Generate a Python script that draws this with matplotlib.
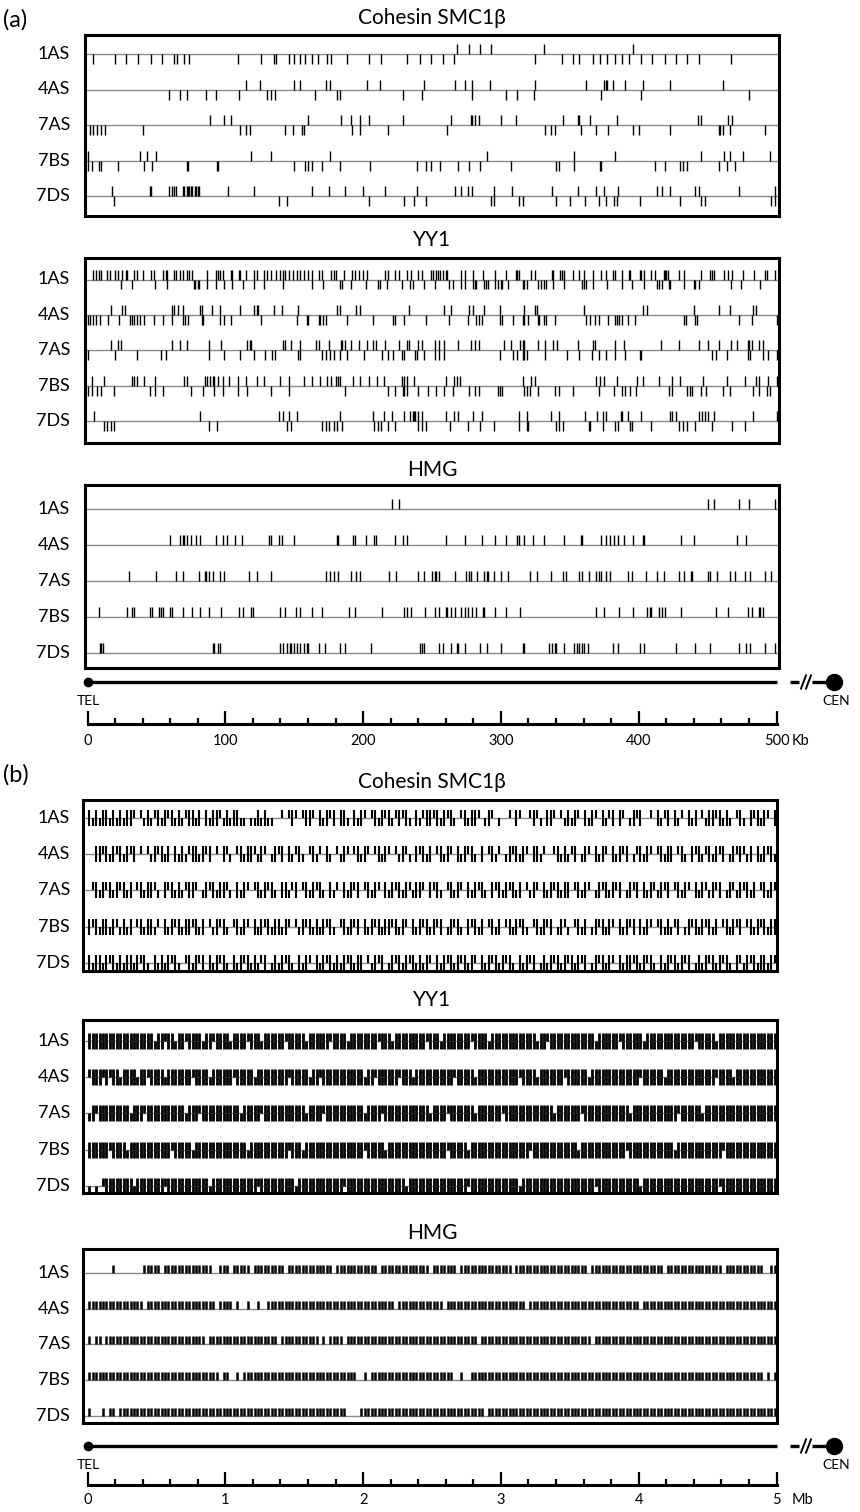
import matplotlib.pyplot as plt

plt.rcParams['font.family'] = ['Lato', 'DejaVu Sans']

W, H = 860, 1512
tracks = ['1AS', '4AS', '7AS', '7BS', '7DS']

# ---- 500 kb window: motif positions (kb), upper / lower strand ----
cohesin_a_up = {
    '1AS': [268, 277, 285, 293, 331, 396],
    '4AS': [115, 125, 150, 154, 173, 176, 203, 212, 244, 267, 274, 279, 292, 325, 362,
            375, 376, 377, 381, 390, 403, 423, 461],
    '7AS': [89, 99, 104, 160, 184, 191, 198, 204, 229, 264, 278, 279, 281, 284, 300, 311,
            345, 356, 357, 365, 384, 443, 445, 465, 468],
    '7BS': [0, 38, 43, 50, 119, 133, 176, 290, 353, 383, 445, 462, 466, 476, 495],
    '7DS': [18, 45, 46, 59, 61, 63, 64, 69, 70, 72, 73, 74, 75, 76, 78, 79, 80, 81, 102,
            121, 163, 175, 187, 200, 216, 239, 267, 271, 276, 279, 295, 308, 337, 356, 369,
            375, 385, 413, 417, 423, 441, 444, 473, 499],
}
cohesin_a_down = {
    '1AS': [4, 20, 28, 37, 46, 54, 63, 65, 70, 74, 109, 126, 135, 137, 146, 150, 154, 158,
            163, 167, 174, 177, 188, 204, 213, 232, 241, 249, 258, 266, 325, 344, 352, 357,
            367, 372, 377, 383, 388, 393, 402, 410, 419, 427, 435, 444, 467],
    '4AS': [59, 67, 72, 86, 93, 110, 130, 133, 136, 165, 181, 183, 229, 243, 279, 304, 312,
            324, 373, 402, 480],
    '7AS': [2, 4, 7, 10, 13, 40, 111, 115, 118, 143, 149, 156, 157, 192, 198, 218, 261, 332,
            336, 339, 358, 369, 378, 396, 400, 423, 458, 459, 461, 466, 492],
    '7BS': [0, 3, 8, 10, 22, 41, 47, 72, 73, 94, 95, 150, 158, 160, 163, 170, 183, 205, 239,
            246, 249, 256, 269, 277, 285, 307, 340, 342, 353, 372, 373, 412, 419, 430, 432,
            435, 458, 464, 470],
    '7DS': [19, 139, 145, 204, 230, 237, 246, 293, 295, 313, 316, 340, 350, 361, 371, 376,
            382, 384, 401, 430, 445, 448, 496, 499],
}

yy1_a_up = {
    '1AS': [4, 6, 8, 10, 14, 16, 20, 22, 25, 28, 29, 34, 36, 40, 46, 48, 55, 57, 58, 63, 64,
            67, 69, 72, 74, 76, 87, 93, 95, 96, 98, 104, 105, 110, 111, 115, 121, 123, 128,
            130, 133, 137, 140, 142, 143, 146, 149, 152, 154, 157, 160, 163, 168, 170, 177,
            179, 180, 186, 192, 194, 197, 200, 203, 216, 218, 223, 226, 232, 235, 240, 243,
            249, 251, 253, 254, 256, 258, 260, 261, 271, 274, 280, 287, 296, 304, 311, 312,
            313, 322, 325, 337, 338, 343, 344, 346, 352, 357, 360, 367, 373, 376, 381, 383,
            388, 393, 394, 401, 402, 404, 409, 412, 418, 419, 420, 421, 429, 433, 445, 452,
            453, 455, 462, 465, 468, 476, 484, 492, 493, 499],
    '4AS': [17, 25, 27, 61, 63, 66, 69, 82, 83, 90, 96, 111, 121, 123, 124, 135, 141, 153,
            181, 183, 195, 198, 233, 259, 264, 277, 280, 288, 299, 317, 325, 326, 360, 403,
            406, 440, 458, 466, 483, 485],
    '7AS': [17, 22, 24, 61, 67, 72, 88, 97, 116, 118, 119, 142, 143, 148, 154, 166, 168, 175,
            184, 185, 187, 191, 197, 203, 207, 209, 216, 226, 232, 233, 240, 243, 252, 255,
            259, 269, 278, 281, 284, 302, 307, 314, 316, 317, 327, 332, 338, 341, 356, 367,
            368, 383, 389, 416, 429, 444, 450, 458, 467, 471, 479, 480, 482, 487, 490],
    '7BS': [3, 12, 32, 34, 36, 41, 49, 70, 72, 85, 87, 89, 91, 92, 95, 98, 103, 109, 115,
            123, 128, 140, 146, 157, 163, 169, 174, 177, 180, 182, 183, 193, 198, 204, 210,
            215, 228, 230, 232, 237, 260, 266, 268, 270, 316, 322, 325, 369, 372, 375, 384,
            399, 403, 415, 424, 430, 447, 464, 477, 485, 487, 494, 500],
    '7DS': [5, 82, 139, 142, 146, 152, 183, 207, 215, 221, 230, 234, 236, 237, 238, 240, 243,
            260, 266, 269, 280, 286, 313, 319, 336, 342, 361, 370, 374, 376, 387, 388, 392,
            402, 423, 424, 427, 444, 446, 448, 450, 455, 483, 500],
}
yy1_a_down = {
    '1AS': [24, 32, 49, 58, 77, 78, 80, 81, 87, 93, 99, 105, 113, 121, 128, 142, 163, 171,
            183, 185, 191, 202, 211, 212, 217, 228, 234, 236, 244, 252, 262, 265, 271, 274,
            280, 281, 282, 288, 289, 291, 296, 298, 300, 301, 305, 316, 317, 319, 327, 329,
            331, 333, 338, 346, 359, 360, 362, 367, 377, 388, 395, 404, 413, 415, 417, 422,
            423, 433, 440, 441, 444, 467, 474, 488],
    '4AS': [0, 2, 4, 6, 9, 15, 23, 31, 32, 34, 36, 38, 41, 48, 55, 61, 69, 71, 73, 83, 84,
            96, 99, 104, 126, 152, 159, 160, 168, 169, 171, 173, 188, 207, 222, 223, 230, 246,
            262, 276, 282, 284, 286, 299, 301, 309, 316, 317, 320, 327, 328, 331, 333, 339,
            362, 365, 368, 371, 378, 383, 384, 386, 388, 392, 397, 433, 434, 441, 442, 473,
            482, 500],
    '7AS': [0, 20, 36, 53, 57, 88, 99, 111, 121, 129, 134, 136, 153, 154, 170, 173, 176, 179,
            183, 188, 201, 214, 218, 222, 228, 230, 238, 239, 244, 252, 255, 259, 299, 309,
            312, 316, 317, 319, 332, 348, 357, 366, 371, 376, 383, 390, 401, 402, 453, 456,
            464, 479, 481, 490, 494, 500],
    '7BS': [0, 3, 7, 10, 19, 45, 49, 55, 75, 84, 92, 98, 109, 116, 133, 146, 187, 218, 223,
            229, 230, 232, 240, 247, 253, 259, 265, 277, 281, 284, 298, 299, 301, 317, 319,
            321, 327, 339, 342, 352, 371, 382, 388, 390, 394, 398, 422, 424, 435, 437, 439,
            445, 449, 461, 466, 483, 487, 493, 495],
    '7DS': [12, 14, 17, 19, 88, 94, 145, 148, 170, 173, 175, 179, 181, 185, 208, 211, 213,
            218, 223, 240, 243, 246, 263, 276, 285, 295, 313, 319, 320, 340, 342, 345, 364,
            365, 374, 383, 385, 394, 395, 409, 429, 432, 435, 441, 453, 468, 477],
}

hmg_a_up = {
    '1AS': [221, 226, 450, 455, 473, 480, 499],
    '4AS': [60, 67, 69, 70, 72, 75, 79, 82, 93, 98, 101, 107, 112, 132, 133, 139, 141, 150,
            181, 182, 193, 194, 202, 208, 209, 223, 229, 232, 260, 274, 286, 296, 304, 312,
            313, 317, 323, 331, 346, 358, 359, 373, 376, 379, 382, 385, 389, 396, 403, 404,
            431, 440, 471, 478],
    '7AS': [30, 50, 64, 69, 81, 85, 86, 88, 91, 96, 99, 117, 123, 133, 173, 176, 179, 182,
            191, 195, 198, 219, 224, 240, 244, 250, 252, 253, 255, 267, 275, 277, 278, 283,
            288, 290, 291, 295, 300, 305, 321, 326, 336, 345, 347, 357, 359, 364, 369, 371,
            373, 376, 379, 392, 395, 405, 413, 418, 429, 433, 438, 439, 450, 452, 457, 466,
            470, 477, 481, 492, 496],
    '7BS': [8, 29, 32, 34, 45, 47, 52, 53, 55, 60, 61, 69, 76, 82, 88, 97, 110, 113, 119,
            120, 140, 143, 151, 154, 163, 170, 190, 194, 214, 230, 232, 235, 245, 252, 255,
            260, 261, 264, 267, 271, 274, 276, 279, 282, 287, 288, 296, 304, 314, 369, 375,
            386, 396, 406, 408, 409, 415, 417, 419, 431, 456, 465, 479, 482, 487, 488, 490],
    '7DS': [9, 10, 11, 91, 92, 95, 96, 140, 142, 145, 147, 148, 150, 152, 154, 157, 159, 160,
            168, 172, 183, 187, 206, 241, 243, 244, 255, 258, 264, 268, 269, 274, 285, 290,
            300, 316, 317, 335, 337, 339, 340, 346, 353, 355, 357, 359, 360, 363, 381, 385,
            401, 404, 427, 441, 452, 473, 478, 481, 492, 499],
}
hmg_a_down = {}

# ---- 5 Mb window: one character per 25 kb bin ----
# '.' none, 'u' upper strand, 'd' lower strand, 'b' both strands
BIN_MB = 0.025

cohesin_b = {
    '1AS': "bdbdbbdbdb dbbu.udbdu bdbubdbdub bdb.bdbbud bdbbdd.ddb dbdd..u.ub u.ubbu.bdb "
           "ub.bbd.bdb u.ubdbubdu bubd.bdubb ubdbubd.ub dbbu.dbu.d ..u.bu..ub ud.bbu.udb "
           "dbu.bdbu.b dub.bu.dbu b..u.bdub. bdu.bdb.ud bbubdbd.ub d.bubdbu.b",
    '4AS': "..bbubdbub dbub.u.udb ubdb.bdbdu bbdbub.u.b ud.ubdbbud bu.dbub.bd ubd.ubdu.b "
           "d.udbu.ubd bu.ubdbu.u dbud.bubdb .ubdbu.bdb ubd.b.ubdu .dbubdbu.b bdu..ubdbd "
           "ub.dbu.bdb u.bdbub.du bdbu.ubdbb .ubd.bubdu bdbub.dbub udb.bdbubd",
    '7AS': ".ubdbubdbu bdb.ubdbbu d.bubdbdub bu.dbubdbb ud.bdbu.ub dbubd.bbdu b.ubdbubd. "
           "bdu.bdbub. ubdbu.bdbu bdbudbbu.b ubd.ubdbu. bdbubd.bub dbubdb.udb u.bdbubdbb "
           ".ubdbu.dbu bdbub.dbub .bdbudbub. ubdbu.bdbu dbub.dbudb ubdb.ubdbu",
    '7BS': "bubdbbdbud bdb.ubdbbd u.bdbubdbb ubdb.udbub d.ubdbu.bd bubdbbdbu. udbubdbdbu "
           "bd.ubdbub. bdbubdbbub dbu.bdbubd bub.dbubd. bubdb.ubdb .ubdbubd.u bdbub.dbud "
           ".ubdb.dbub dbu.bdbub. bdbu.ubdbd ub.dbubdbu bdb.ubdbub .ubdbubdbb",
    '7DS': "bdbbdbubdb dbbdbubd.b dbdbubd.ub dbub.bdbub d.bdbubdbd ub.dbdbubd .bdbu.bdbu "
           "bdbdbubdbb .udbub.dbu bdbubdbdbu .bdbubdbub dbu.bdbubd bubd.bdbub .dbdbubdbu "
           "bdbub.dbub dbu.bdbbub dbubd.bdbu bdbub.dbdb ubdbubd.bu dbubdbbdbu",
}
yy1_b = {
    '1AS': "bbbbbbbbbb bbbbbbbbbd bbubbdbbub bbbdbbubbb bdbbbbubbb dbbbbbbubb bbbdbbbbbb "
           "ubbbbdbbbb bbbbubbbdb bbbbbbbbub bbdbbbbbbb bubbbbdbbb bbbbbbbbbb dbbubbbbbb "
           "bbbbbbbdbb bbbbubbbbb bdbbbbbbbb bbbbbbubbb bbdbbbbbbb bbbbbbbbbb",
    '4AS': "ubbbububbd bbbbdbbubb bbdbbbbbbb ubbbbdbbbb bbubbbbbdb bbbbbbbbub bbbbdbbubb "
           "bbbbbbbbbb dbbubbbbbb ubbbdbbbbb bbbbbbubbb bbdbbbbbbb bbbbbubbbb dbbbbbbbub "
           "bbbbbdbbbb bbbbbbbbbb ubbbbbbdbb bbbbbbbbbb bbubbbbdbb bbbbbbbbbb",
    '7AS': "dbubbbbbbb bbdbbbubbb bbbbbbbbdb bbubbbbbbb bbbbdbbbbb ubbbbbbbbb bbbdbbbbub "
           "bbbbbbbbbb dbbbbubbbb bbbbbbbbbd bbbbubbbbb bbdbbbbbbb ubbbbbbbbb bbbbbdbbbb "
           "bbbubbbbbb bbbbbbbdbb bbbbbbbbbb bubbbbbbdb bbbbbbbbbb bbbbbbbbbb",
    '7BS': "bbbbbbubbb bdbbbbbbbb bbbbubbbbb dbbbbbbbbb bbbbbbdbbb bbbbbbbbub bbdbbbbbbb "
           "bbbbbbbbbb ubbbbbdbbb bbbbbbbbbb bbbbubbbbb dbbbbbbbbb bbbbbbbbub bbbbbbbbbb "
           "bbdbbbbbbb bbbbbbubbb bbbbbbbbbb dbbbbbbbbb bbbbubbbbb bbbbbbbbbb",
    '7DS': "d.d.ubbbbb bbbdbbbbbb bbubbbbbbb bbbbbdbbbb bbbbbbbbbu bbbbbbbbbb dbbbbbbbbb "
           "bbbbubbbbb bbbbbbbbbb bbdbbbbbbb bbbbbbbbbb ubbbbbbbbb bbbbbdbbbb bbbbbbbbbb "
           "bbbbbbbubb bbbbbbbbbb dbbbbbbbbb bbbbbbbbbb bbbubbbbbb bbbbbbbbbb",
}
hmg_b = {
    '1AS': ".......u.. ......uuuu u.uuuuuuuu uuuuuu..uu u.uuuuu.uu uuuuuuu.uu uuuuuuuuuu "
           "u.uuuuuuuu uuuu.uuuuu uuuuuuuuu. uuuuuuu.uu uuuuuuuuuu uuu.uuuuuu uuuuuuuuuu "
           "uuuuu.uuuu uuuuuuuuuu uuuuuuu.uu uuuuuuuuuu uuuu.uuuuu uuuuuu..uu",
    '4AS': "uuuuuuuuuu uuuuuu.uuu uuuuuuuuuu uuuuuuu.uu uu.u..u..u ..uuuuuuuu uuuuuuuuuu "
           "uuuuuuuuuu uuuuuuuuu. uuuuuuuuuu uuu.uuuuuu uuuuuuuuuu uuuuuuu.uu uuuuuuuuuu "
           "uuuuuuuuuu uuuuuuuuuu .uuuuuuuuu uuuuuuuuuu uuuuuuuuuu uuuuuuuuuu",
    '7AS': "u.uu.uuuuu uuuuuuuuuu uuuuuuuuuu uuuu.uuuuu uuuuuuuuuu uuuuu.uuuu uuuuuuu.u. "
           "uuuu.uuuuu uuuuuuuuuu uuuuuuuuuu uuuuuuuuuu uuu.uuuuuu uuuuuuuuuu uuuuuuuuuu "
           "uuuuuu.uuu uuuuuuuuuu uuuuuuuuuu uuuuuuuuuu uuuuuuuuuu uuuuuuuuuu",
    '7BS': "uuuuuuuuuu uuuuuuuuuu uuuuuuuuuu uuuuuuuu.u u..u.uuuuu uuuuuuuuuu uuuuuuuuuu "
           "uuuuuuuu.. u.uuuuuuuu uuuuuuuuuu uuuuuu..u. .uuuuuuuuu uuuuuuuuuu uuuuuuuuuu "
           "uuuuuuuuuu uuuuuuuuuu uuuuuuuuuu uuuuuuuuuu uuuuuuuuuu uuuuuu.u.u",
    '7DS': "u...u.uu.u uuuuuuuuuu uuuuuuuuuu uuuuuuuuuu uuuuuuuuuu uuuuuuuuuu uuuuuuuuuu "
           "uuuuu....u uuuuuuuuuu uuuuuuuuuu uuuuuuuuuu uuuuu.uuuu uuuuuuuuuu uuuuuuuuuu "
           "uuuuuuuuuu uuuuuuuuuu uuuuuuuuuu uuuuuuuuuu uuuuuuuuuu uuuuuuuuuu",
}

scale_a_major = [0, 100, 200, 300, 400, 500]
scale_b_major = [0, 1, 2, 3, 4, 5]


def bins_to_positions(pattern, strand):
    cells = "".join(pattern.split())
    keep = 'u' if strand == 'up' else 'd'
    return [(i + 0.5) * BIN_MB for i, c in enumerate(cells) if c in (keep, 'b')]


def split_bins(table):
    up = {k: bins_to_positions(v, 'up') for k, v in table.items()}
    down = {k: bins_to_positions(v, 'down') for k, v in table.items()}
    return up, down


fig = plt.figure(figsize=(W / 100, H / 100), dpi=100)


def px_axes(left, top, right, bottom):
    return fig.add_axes([left / W, 1 - bottom / H, (right - left) / W, (bottom - top) / H])


def x_limits(left, right, xmap):
    px0, px1, vmax = xmap
    k = vmax / (px1 - px0)
    return (left - px0) * k, (right - px0) * k


def motif_box(box, xmap, title, title_y, up, down, base0, step, tick, lw):
    left, top, right, bottom = box
    ax = px_axes(left, top, right, bottom)
    ax.set_xlim(*x_limits(left, right, xmap))
    ax.set_ylim(bottom - top, 0)
    for i, name in enumerate(tracks):
        y = base0 + i * step
        ax.axhline(y, color='#8a8a8a', lw=1.0, zorder=1)
        ax.vlines(up.get(name, []), y - tick, y, color='black', lw=lw, zorder=2)
        ax.vlines(down.get(name, []), y, y + tick, color='black', lw=lw, zorder=2)
        fig.text(70 / W, 1 - (top + y) / H, name, ha='right', va='center', fontsize=13)
    ax.set_xticks([])
    ax.set_yticks([])
    for s in ax.spines.values():
        s.set_linewidth(2.2)
    fig.text(432 / W, 1 - title_y / H, title, ha='center', va='center', fontsize=15)


def ruler(xmap, y_chrom, y_scale, majors, unit, minor_step, pad):
    px0, px1, vmax = xmap
    k = vmax / (px1 - px0)

    # chromosome arm from telomere to the centromere break
    ax = px_axes(70, y_chrom - 12, 860, y_chrom + 12)
    ax.set_xlim(*x_limits(70, 860, xmap))
    ax.set_ylim(-1, 1)
    ax.axis('off')
    ax.plot([0, vmax], [0, 0], color='black', lw=2.4, solid_capstyle='butt')
    ax.plot([0], [0], 'o', color='black', ms=6)
    v = lambda px: (px - px0) * k
    ax.plot([v(790), v(799)], [0, 0], color='black', lw=2.4, solid_capstyle='butt')
    ax.plot([v(801), v(806)], [-0.55, 0.55], color='black', lw=1.4)
    ax.plot([v(806), v(811)], [-0.55, 0.55], color='black', lw=1.4)
    ax.plot([v(812), v(826)], [0, 0], color='black', lw=2.4, solid_capstyle='butt')
    ax.plot([v(834)], [0], 'o', color='black', ms=11.5)
    fig.text(88 / W, 1 - (y_chrom + 19) / H, 'TEL', ha='center', va='center', fontsize=10)
    fig.text(836 / W, 1 - (y_chrom + 19) / H, 'CEN', ha='center', va='center', fontsize=10)

    # distance scale
    sx = px_axes(70, y_scale - 20, 860, y_scale)
    sx.set_xlim(*x_limits(70, 860, xmap))
    sx.set_facecolor('none')
    for side in ('top', 'left', 'right'):
        sx.spines[side].set_visible(False)
    sx.spines['bottom'].set_bounds(0, vmax)
    sx.spines['bottom'].set_linewidth(2.2)
    sx.set_yticks([])
    sx.set_xticks(majors)
    sx.set_xticklabels([f'{m:g}' for m in majors])
    n_minor = int(round(vmax / minor_step))
    sx.set_xticks([i * minor_step for i in range(n_minor + 1)], minor=True)
    sx.tick_params(axis='x', which='major', direction='in', length=9.5, width=1.6,
                   labelsize=10.5, pad=pad)
    sx.tick_params(axis='x', which='minor', direction='in', length=4.5, width=1.6)
    fig.text((px1 + 15) / W, 1 - (y_scale + pad / 0.72) / H, unit, ha='left', va='top',
             fontsize=10.5)


# ---- panel (a): 500 kb ----
xmap_a = (87.5, 776.5, 500)
fig.text(3 / W, 1 - 20 / H, '(a)', ha='left', va='center', fontsize=17)
motif_box((85, 35, 779, 216), xmap_a, 'Cohesin SMC1β', 18,
          cohesin_a_up, cohesin_a_down, 19, 35.5, 10, 1.0)
motif_box((85, 258, 779, 443), xmap_a, 'YY1', 240,
          yy1_a_up, yy1_a_down, 21.5, 35.4, 10, 1.0)
motif_box((85, 485, 779, 668), xmap_a, 'HMG', 470,
          hmg_a_up, hmg_a_down, 23.5, 36, 10, 1.0)
ruler(xmap_a, 682, 724, scale_a_major, 'Kb', 20, 7)

# ---- panel (b): 5 Mb ----
xmap_b = (87.5, 776.5, 5)
fig.text(3 / W, 1 - 775 / H, '(b)', ha='left', va='center', fontsize=17)
coh_up, coh_down = split_bins(cohesin_b)
yy_up, yy_down = split_bins(yy1_b)
hmg_up, hmg_down = split_bins(hmg_b)
motif_box((83, 800, 777, 971), xmap_b, 'Cohesin SMC1β', 782,
          coh_up, coh_down, 18, 36.2, 8, 1.5)
motif_box((83, 1020, 777, 1193), xmap_b, 'YY1', 1000,
          yy_up, yy_down, 21, 36.2, 8, 2.0)
motif_box((83, 1249, 777, 1423), xmap_b, 'HMG', 1233,
          hmg_up, hmg_down, 24, 35.7, 8, 1.8)
ruler(xmap_b, 1446, 1485, scale_b_major, 'Mb', 0.2, 5.5)

fig.savefig('out.png', dpi=100)
